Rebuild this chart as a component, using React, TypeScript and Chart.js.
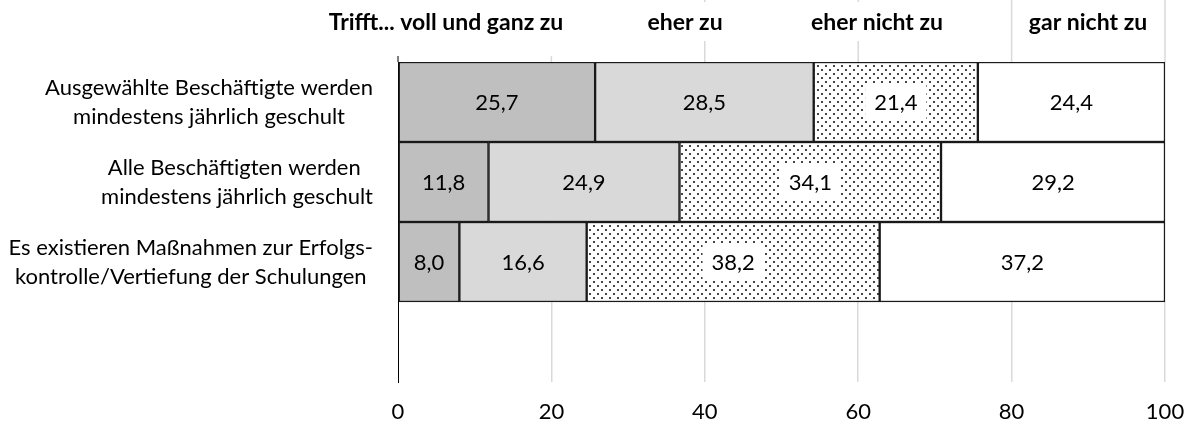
import React, { useEffect, useRef } from "react";
import { Chart, registerables } from "chart.js";

Chart.register(...registerables);

const categories: string[][] = [
  ["Ausgewählte Beschäftigte werden", "mindestens jährlich geschult"],
  ["Alle Beschäftigten werden ", "mindestens jährlich geschult"],
  ["Es existieren Maßnahmen zur Erfolgs-", "kontrolle/Vertiefung der Schulungen"],
  [""],
];

const seriesNames = ["Trifft... voll und ganz zu", "eher zu", "eher nicht zu", "gar nicht zu"];

const vollUndGanz = [25.7, 11.8, 8.0, null];
const eherZu = [28.5, 24.9, 16.6, null];
const eherNicht = [21.4, 34.1, 38.2, null];
const garNicht = [24.4, 29.2, 37.2, null];

const xTicks = [0, 20, 40, 60, 80, 100];

const FONT = "Lato, 'Open Sans', sans-serif";

function makeDotPattern(): CanvasPattern | string {
  const c = document.createElement("canvas");
  c.width = 8;
  c.height = 8;
  const ctx = c.getContext("2d");
  if (!ctx) return "#eee";
  ctx.fillStyle = "#ffffff";
  ctx.fillRect(0, 0, 8, 8);
  ctx.fillStyle = "#444444";
  ctx.fillRect(1, 1, 2, 2);
  ctx.fillRect(5, 5, 2, 2);
  const p = ctx.createPattern(c, "repeat");
  return p || "#eee";
}

const fmt = (v: number) => v.toFixed(1).replace(".", ",");

export default function App() {
  const ref = useRef<HTMLCanvasElement | null>(null);

  useEffect(() => {
    document.body.style.margin = "0";
    const canvas = ref.current;
    if (!canvas) return;
    const dots = makeDotPattern();

    const overlay = {
      id: "overlay",
      afterDatasetsDraw(chart: any) {
        const ctx = chart.ctx;
        ctx.save();
        ctx.font = `22px ${FONT}`;
        ctx.textAlign = "center";
        ctx.textBaseline = "middle";
        chart.data.datasets.forEach((ds: any, di: number) => {
          const meta = chart.getDatasetMeta(di);
          meta.data.forEach((el: any, i: number) => {
            const v = ds.data[i];
            if (v === null || v === undefined) return;
            const cx = (el.x + el.base) / 2;
            const cy = el.y;
            const txt = fmt(v);
            if (di === 2) {
              const w = ctx.measureText(txt).width + 18;
              ctx.fillStyle = "#ffffff";
              ctx.fillRect(cx - w / 2, cy - 19, w, 38);
            }
            ctx.fillStyle = "#000000";
            ctx.fillText(txt, cx, cy + 1);
          });
        });
        ctx.restore();
      },
      afterDraw(chart: any) {
        const ctx = chart.ctx;
        const xs = chart.scales.x;
        const ys = chart.scales.y;
        const top = chart.chartArea.top;
        ctx.save();
        ctx.strokeStyle = "#d9d9d9";
        ctx.lineWidth = 1.5;
        xTicks.forEach((t) => {
          if (t === 0) return;
          const x = xs.getPixelForValue(t);
          ctx.beginPath();
          ctx.moveTo(x, 0);
          ctx.lineTo(x, top);
          ctx.stroke();
        });
        ctx.strokeStyle = "#000000";
        ctx.lineWidth = 1;
        const x0 = xs.getPixelForValue(0);
        ctx.beginPath();
        ctx.moveTo(x0, 0);
        ctx.lineTo(x0, top);
        ctx.stroke();
        ctx.fillStyle = "#ffffff";
        ctx.fillRect(300, 0, 270, 56);
        ctx.fillRect(640, 2, 95, 39);
        ctx.fillRect(800, 2, 150, 39);
        ctx.fillStyle = "#000000";
        ctx.font = `bold 23px ${FONT}`;
        ctx.textAlign = "center";
        ctx.textBaseline = "middle";
        const headerX = [446, 685, 877, 1088];
        seriesNames.forEach((n, i) => ctx.fillText(n, headerX[i], 23));
        ctx.font = `22px ${FONT}`;
        const lh = 29;
        categories.forEach((lines, i) => {
          const cy = ys.getPixelForValue(i);
          const widest = Math.max(...lines.map((l) => ctx.measureText(l).width));
          const cx = 373 - widest / 2;
          lines.forEach((l, j) => {
            const y = cy + (j - (lines.length - 1) / 2) * lh;
            ctx.fillText(l, cx, y);
          });
        });
        ctx.restore();
      },
    };

    const chart = new Chart(canvas, {
      type: "bar",
      data: {
        labels: categories,
        datasets: [
          { label: seriesNames[0], data: vollUndGanz, backgroundColor: "#bfbfbf" },
          { label: seriesNames[1], data: eherZu, backgroundColor: "#d9d9d9" },
          { label: seriesNames[2], data: eherNicht, backgroundColor: dots as any },
          { label: seriesNames[3], data: garNicht, backgroundColor: "#ffffff" },
        ].map((d) => ({
          ...d,
          borderColor: "#1a1a1a",
          borderWidth: 1.5,
          borderSkipped: false,
          categoryPercentage: 1,
          barPercentage: 1,
        })) as any,
      },
      options: {
        indexAxis: "y",
        animation: false,
        responsive: true,
        maintainAspectRatio: false,
        layout: { padding: { top: 62, right: 27, left: 0, bottom: 0 } },
        plugins: { legend: { display: false }, tooltip: { enabled: false } },
        scales: {
          x: {
            stacked: true,
            min: 0,
            max: 100,
            afterBuildTicks: (s: any) => {
              s.ticks = xTicks.map((v) => ({ value: v }));
            },
            afterFit: (s: any) => {
              s.height = 41;
              s.paddingRight = 0;
              s.paddingLeft = 0;
            },
            border: { display: false },
            grid: {
              drawTicks: false,
              color: (c: any) => (c.tick && c.tick.value === 0 ? "rgba(0,0,0,0)" : "#d9d9d9"),
              lineWidth: 1.5,
            },
            ticks: {
              padding: 17,
              color: "#000000",
              font: { family: FONT, size: 22 },
            },
          },
          y: {
            stacked: true,
            afterFit: (s: any) => {
              s.width = 398;
            },
            grid: { display: false, drawTicks: false },
            border: { display: true, color: "#000000", width: 1 },
            ticks: { display: false },
          },
        },
      },
      plugins: [overlay],
    });
    return () => chart.destroy();
  }, []);

  return (
    <div style={{ width: 1192, height: 423, position: "relative" }}>
      <canvas ref={ref} />
    </div>
  );
}
